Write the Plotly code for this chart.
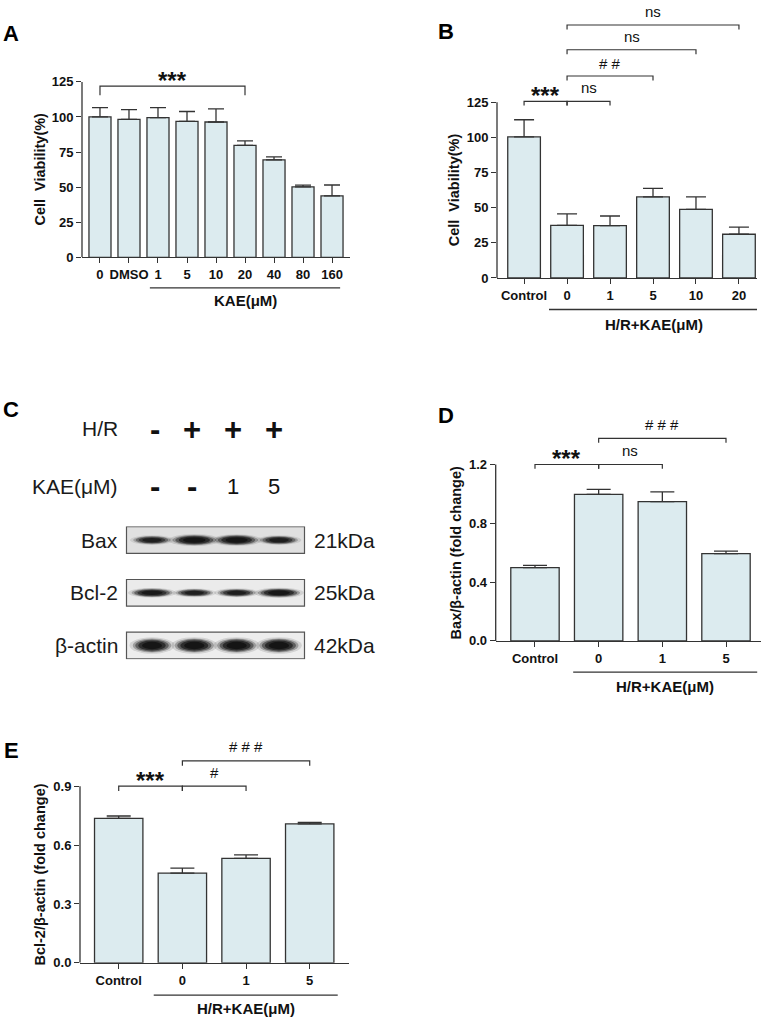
import plotly.graph_objects as go

# ---------------- data ----------------
a_labels = ["0", "DMSO", "1", "5", "10", "20", "40", "80", "160"]
a_mean = [100, 98.3, 99.5, 96.8, 96.4, 79.8, 69.4, 50.2, 43.7]
a_sd = [6.7, 6.9, 7.2, 7.1, 9.3, 3.1, 2.1, 1.2, 7.8]

b_labels = ["Control", "0", "1", "5", "10", "20"]
b_mean = [100.4, 37.4, 37.3, 57.7, 48.8, 31.1]
b_sd = [12.2, 8.2, 6.8, 6.1, 8.9, 5.1]

d_labels = ["Control", "0", "1", "5"]
d_mean = [0.498, 0.997, 0.947, 0.594]
d_sd = [0.016, 0.033, 0.067, 0.016]

e_labels = ["Control", "0", "1", "5"]
e_mean = [0.736, 0.457, 0.532, 0.708]
e_sd = [0.012, 0.025, 0.018, 0.008]

blot_proteins = ["Bax", "Bcl-2", "β-actin"]
blot_kda = ["21kDa", "25kDa", "42kDa"]
blot_hr = ["-", "+", "+", "+"]
blot_kae = ["-", "-", "1", "5"]
bax_density = [0.55, 1.0, 0.95, 0.6]
bcl2_density = [0.8, 0.55, 0.6, 0.9]
actin_density = [0.95, 1.0, 1.0, 1.0]

# ---------------- helpers ----------------
W, H = 768, 1026
FONT = "Liberation Sans"
BAR_FILL = "#dcebef"
INK = "#333333"


def fx(p):
    return p / W


def fy(p):
    return 1 - p / H


fig = go.Figure()
shapes = []
annots = []


def add_panel(idx, labels, mean, sd, xdom, ydom, xrange_, yrange_, tickvals_y, ticktext_y,
              capw, axis_top):
    xa = "x" if idx == 1 else f"x{idx}"
    ya = "y" if idx == 1 else f"y{idx}"
    xs = list(range(len(labels)))
    fig.add_trace(go.Bar(
        x=xs, y=mean, width=0.76, xaxis=xa, yaxis=ya,
        marker=dict(color=BAR_FILL, line=dict(color=INK, width=1.3)),
        error_y=dict(type="data", symmetric=False, array=sd, arrayminus=[0] * len(sd),
                     color=INK, thickness=1.3, width=capw),
        showlegend=False, hoverinfo="skip",
    ))
    axkey = "xaxis" if idx == 1 else f"xaxis{idx}"
    aykey = "yaxis" if idx == 1 else f"yaxis{idx}"
    fig.layout[axkey] = dict(
        domain=[fx(xdom[0]), fx(xdom[1])], range=xrange_, anchor=ya,
        tickvals=xs, ticktext=labels, ticks="outside", ticklen=5, tickwidth=1.3,
        tickcolor=INK, showline=True, linecolor=INK, linewidth=1.3, showgrid=False,
        zeroline=False, fixedrange=True,
        tickfont=dict(family=FONT, size=13, color="#111", weight="bold"),
    )
    fig.layout[aykey] = dict(
        domain=[fy(ydom[1]), fy(ydom[0])], range=yrange_, anchor=xa,
        tickvals=tickvals_y, ticktext=ticktext_y, ticks="outside", ticklen=5,
        tickwidth=1.3, tickcolor=INK, showline=False, showgrid=False, zeroline=False,
        fixedrange=True,
        tickfont=dict(family=FONT, size=13, color="#111", weight="bold"),
    )
    # y-axis line only up to the top tick
    shapes.append(dict(type="line", xref=f"{xa} domain", yref=ya, x0=0, x1=0,
                       y0=0, y1=axis_top, line=dict(color=INK, width=1.3)))
    return xa, ya


def ytitle(text, x, ycenter):
    annots.append(dict(text=text, xref="paper", yref="paper", x=fx(x), y=fy(ycenter),
                       textangle=-90, showarrow=False, xanchor="center", yanchor="middle",
                       font=dict(family=FONT, size=14.5, color="#111", weight="bold")))


def bracket(xa, ya, x0, x1, y, drop, label, bold=False, size=15, shift=13):
    shapes.append(dict(type="path", xref=xa, yref=ya,
                       path=f"M {x0},{y - drop} L {x0},{y} L {x1},{y} L {x1},{y - drop}",
                       line=dict(color=INK, width=1.2)))
    annots.append(dict(text=label, xref=xa, yref=ya, x=(x0 + x1) / 2, y=y, yshift=shift,
                       showarrow=False, xanchor="center", yanchor="middle",
                       font=dict(family=FONT, size=size, color="#111",
                                 weight="bold" if bold else "normal")))


def group_line(xa, x0, x1, ypix, text, textpix):
    shapes.append(dict(type="line", xref=xa, yref="paper", x0=x0, x1=x1,
                       y0=fy(ypix), y1=fy(ypix), line=dict(color=INK, width=1.3)))
    annots.append(dict(text=text, xref=xa, yref="paper", x=(x0 + x1) / 2, y=fy(textpix),
                       showarrow=False, xanchor="center", yanchor="middle",
                       font=dict(family=FONT, size=15, color="#111", weight="bold")))


def panel_letter(letter, x, y):
    annots.append(dict(text=letter, xref="paper", yref="paper", x=fx(x), y=fy(y),
                       showarrow=False, xanchor="center", yanchor="middle",
                       font=dict(family=FONT, size=22, color="#000", weight="bold")))


STAR = dict(bold=True, size=24, shift=6)

# ---------------- Panel A ----------------
xa, ya = add_panel(1, a_labels, a_mean, a_sd, (82, 350), (76, 254), [-0.62, 8.62], [0, 125],
                   [0, 25, 50, 75, 100, 125], ["0", "25", "50", "75", "100", "125"], 8, 125)
ytitle("Cell  Viability(%)", 40, 165)
bracket(xa, ya, 0, 5, 122, 6.5, "***", **STAR)
group_line(xa, 1.72, 8.28, 285, "KAE(μM)", 298)
panel_letter("A", 11, 27)

# ---------------- Panel B ----------------
xb, yb = add_panel(2, b_labels, b_mean, b_sd, (497, 757), (10, 275), [-0.63, 5.42], [0, 185.8],
                   [0, 25, 50, 75, 100, 125], ["0", "25", "50", "75", "100", "125"], 10, 125)
ytitle("Cell  Viability(%)", 454, 186)
bracket(xb, yb, 0, 1, 125.7, 3.0, "***", **STAR)
bracket(xb, yb, 1, 2, 125.7, 3.0, "ns", shift=14)
bracket(xb, yb, 1, 3, 143.7, 3.2, "# #", shift=13)
bracket(xb, yb, 1, 4, 162.4, 3.2, "ns", shift=13)
bracket(xb, yb, 1, 5, 180.0, 3.2, "ns", shift=14)
group_line(xb, 0.58, 5.47, 307, "H/R+KAE(μM)", 322)
panel_letter("B", 446, 25)

# ---------------- Panel D ----------------
xd, yd = add_panel(3, d_labels, d_mean, d_sd, (495.7, 760.7), (419.5, 643.3), [-0.617, 3.545],
                   [0, 1.5], [0, 0.4, 0.8, 1.2], ["0.0", "0.4", "0.8", "1.2"], 12, 1.2)
ytitle("Bax/β-actin (fold change)", 455.7, 553.8)
bracket(xd, yd, 0, 1, 1.2, 0.029, "***", **STAR)
bracket(xd, yd, 1, 2, 1.2, 0.029, "ns", shift=14)
bracket(xd, yd, 1, 3, 1.378, 0.03, "# # #", shift=14)
group_line(xd, 0.6, 3.49, 675, "H/R+KAE(μM)", 690)
panel_letter("D", 446, 415)

# ---------------- Panel E ----------------
xe, ye = add_panel(4, e_labels, e_mean, e_sd, (80, 349), (750.9, 970), [-0.608, 3.617],
                   [0, 1.1], [0, 0.3, 0.6, 0.9], ["0.0", "0.3", "0.6", "0.9"], 12, 0.9)
ytitle("Bcl-2/β-actin (fold change)", 40, 880.4)
bracket(xe, ye, 0, 1, 0.9, 0.025, "***", **STAR)
bracket(xe, ye, 1, 2, 0.9, 0.025, "#", shift=14)
bracket(xe, ye, 1, 3, 1.029, 0.025, "# # #", shift=14)
group_line(xe, 0.55, 3.44, 1002.7, "H/R+KAE(μM)", 1016.7)
panel_letter("E", 11, 755)

# ---------------- Panel C (western blot) ----------------
LANE_PX = 42.3      # px per lane unit
ROW_PX = 53.5       # px per row unit
lanes = [1, 2, 3, 4]
fig.add_trace(go.Scatter(x=lanes * 3, y=[0] * 4 + [1] * 4 + [2] * 4, xaxis="x5", yaxis="y5",
                         mode="markers", marker=dict(opacity=0), showlegend=False,
                         hoverinfo="skip"))
fig.layout["xaxis5"] = dict(domain=[fx(126.5), fx(304.5)], range=[0.397, 4.605], anchor="y5",
                            visible=False, fixedrange=True)
fig.layout["yaxis5"] = dict(domain=[fy(662), fy(527)], range=[2.262, -0.262], anchor="x5",
                            visible=False, fixedrange=True)

row_style = [
    dict(bg="#e0e0e0", wbase=26, hbase=5.0, hgain=4.0),
    dict(bg="#ebebeb", wbase=26, hbase=5.0, hgain=3.0),
    dict(bg="#ededed", wbase=22, hbase=11.0, hgain=1.5),
]
densities = [bax_density, bcl2_density, actin_density]
blur_layers = [(1.35, 0.12), (1.15, 0.28), (1.0, 0.45), (0.82, 0.65), (0.6, 0.85)]
C_FONT = dict(family=FONT, size=21, color="#1a1a1a")

for r, dens in enumerate(densities):
    st = row_style[r]
    shapes.append(dict(type="rect", xref="x5 domain", yref="y5", x0=0, x1=1,
                       y0=r - 0.253, y1=r + 0.253, fillcolor=st["bg"],
                       line=dict(color="#555", width=1.2), layer="below"))
    for lane, d in zip(lanes, dens):
        wu = (st["wbase"] + 12 * d) / LANE_PX
        hu = (st["hbase"] + st["hgain"] * d) / ROW_PX
        k = 0.6 + 0.4 * d
        for sc, op in blur_layers:
            shapes.append(dict(type="circle", xref="x5", yref="y5",
                               x0=lane - wu * sc / 2, x1=lane + wu * sc / 2,
                               y0=r - hu * sc / 2, y1=r + hu * sc / 2,
                               fillcolor="#121212", opacity=min(1, op * k),
                               line=dict(width=0)))
    annots.append(dict(text=blot_proteins[r], xref="paper", yref="y5", x=fx(120), y=r,
                       xanchor="right", yanchor="middle", showarrow=False, font=C_FONT))
    annots.append(dict(text=blot_kda[r], xref="paper", yref="y5", x=fx(312), y=r,
                       xanchor="left", yanchor="middle", showarrow=False, font=C_FONT))

annots.append(dict(text="H/R", xref="paper", yref="paper", x=fx(120), y=fy(428),
                   xanchor="right", yanchor="middle", showarrow=False, font=C_FONT))
annots.append(dict(text="KAE(μM)", xref="paper", yref="paper", x=fx(120), y=fy(487),
                   xanchor="right", yanchor="middle", showarrow=False, font=C_FONT))
sign_cols = [155, 192, 233, 274]
for cx, s in zip(sign_cols, blot_hr):
    annots.append(dict(text=s, xref="paper", yref="paper", x=fx(cx), y=fy(429),
                       xanchor="center", yanchor="middle", showarrow=False,
                       font=dict(family=FONT, size=31, color="#111", weight="bold")))
for cx, s in zip(sign_cols, blot_kae):
    is_sign = s in "+-"
    annots.append(dict(text=s, xref="paper", yref="paper", x=fx(cx), y=fy(487),
                       xanchor="center", yanchor="middle", showarrow=False,
                       font=dict(family=FONT, size=31 if is_sign else 22, color="#111",
                                 weight="bold" if is_sign else "normal")))
panel_letter("C", 11, 408)

fig.update_layout(
    width=W, height=H, margin=dict(l=0, r=0, t=0, b=0),
    paper_bgcolor="white", plot_bgcolor="white",
    shapes=shapes, annotations=annots, showlegend=False,
    font=dict(family=FONT),
)
reset_css = (
    "var s=document.createElement('style');"
    "s.textContent='html,body{margin:0;padding:0;overflow:hidden;}';"
    "document.head.appendChild(s);"
)
fig.write_html("out.html", config={"displayModeBar": False}, post_script=reset_css)
